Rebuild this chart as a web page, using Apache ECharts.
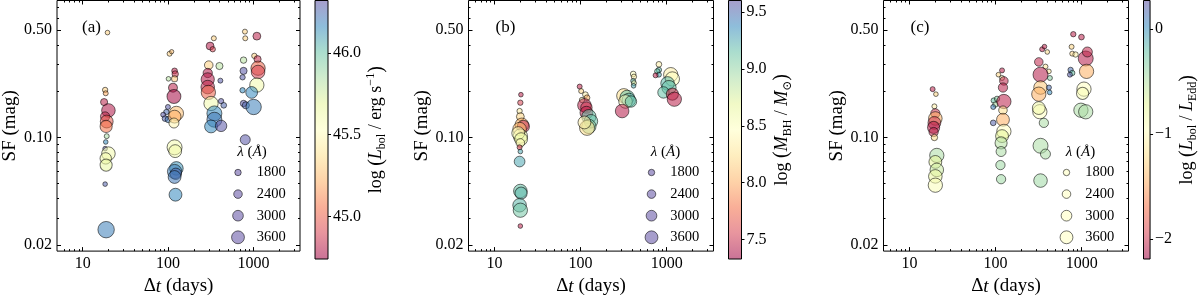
<!DOCTYPE html>
<html><head><meta charset="utf-8">
<script src="https://cdn.jsdelivr.net/npm/echarts@6/dist/echarts.min.js"></script>
<style>html,body{margin:0;padding:0;background:#fff}#c{width:1200px;height:301px}</style>
</head><body><div id="c"></div>
<script>
// ---------------- data ----------------
// Panel (a): colour = log(Lbol / erg s^-1)
const aDt  = [19.5,18.3,18.6,17.8,20.0,18.3,19.1,18.8,19.1,18.6,18.3,20.0,18.6,18.8,18.3,18.8,
              104,110,119,121,101,119,114,117,99.5,95.3,87.6,92,100.6,125,119,117,119,121,125,119,123,119,122,
              343,310,333,299,399,291,291,409,291,296,318,417,448,348,348,318,417,
              793,800,1094,1022,1115,764,764,744,1130,1130,1094,744,951,764,813,1003,800];
const aSF  = [0.482,0.204,0.194,0.170,0.150,0.137,0.127,0.118,0.102,0.0935,0.0846,0.0785,0.0731,0.0661,0.0497,0.0251,
              0.351,0.362,0.2715,0.259,0.241,0.241,0.211,0.185,0.158,0.1465,0.1407,0.1328,0.131,0.1435,0.1367,0.1242,0.0863,0.0815,0.0629,0.0600,0.058,0.0553,0.0424,
              0.4425,0.394,0.3755,0.296,0.292,0.263,0.239,0.2345,0.213,0.1965,0.1665,0.1725,0.162,0.1435,0.1305,0.118,0.119,
              0.489,0.4425,0.457,0.340,0.3235,0.319,0.2715,0.2465,0.2825,0.267,0.2195,0.203,0.1965,0.1665,0.162,0.158,0.0967];
const aLam = [1300,1500,1400,2000,3800,2600,3600,3400,1400,1300,1300,3800,3200,3400,1300,4600,
              1400,1200,1600,1800,1300,1700,2500,3900,1400,1500,1400,1600,1800,4000,3600,2800,4200,3600,3800,4000,3200,3600,3600,
              1400,2200,1500,2400,2000,2600,3700,1400,3800,4000,4000,1500,1600,4200,4200,3600,3200,
              1400,1400,2200,1500,2000,1800,2000,1500,4000,3800,4000,1500,3300,1800,2000,4300,2800];
const aLbol = [45.32,45.32,45.21,44.82,44.79,44.83,44.98,45.06,45.85,46.16,46.30,45.61,45.61,45.66,46.27,46.19,
               45.32,45.26,44.82,44.87,45.81,45.29,44.82,44.76,46.29,46.24,46.30,46.27,46.21,45.26,45.21,45.48,45.61,45.61,46.13,46.19,46.26,46.21,46.16,
               45.32,44.80,44.90,45.32,45.81,44.80,44.80,46.29,44.83,45.01,45.61,46.30,46.26,46.16,46.21,46.16,46.30,
               45.32,45.32,44.82,45.32,44.85,45.81,46.30,46.29,45.02,44.90,45.61,46.16,46.16,46.30,46.26,46.19,46.30];

// Panel (b): colour = log(MBH / Msun)
const bDt  = [20.3,20.0,19.6,20.0,20.8,21.7,19.6,20.0,18.9,20.4,20.0,19.6,20.0,19.6,20.0,20.4,19.6,20.0,20.0,
              97.7,101.7,114,119,104,111,117,117,125,132,125,119,111,
              409,417,409,417,413,318,348,364,333,385,304,
              813,813,778,813,744,1115,1165,1025,1064,919,1165,1228];
const bSF  = [0.190,0.1685,0.1487,0.1367,0.1209,0.118,0.1134,0.1021,0.1068,0.0975,0.0922,0.0863,0.081,0.0697,0.0448,0.0434,0.0362,0.0336,0.0265,
              0.2145,0.2005,0.190,0.1815,0.1755,0.162,0.1565,0.145,0.1367,0.1275,0.118,0.1155,0.1253,
              0.259,0.2485,0.2335,0.226,0.217,0.187,0.1825,0.1755,0.1715,0.1715,0.1487,
              0.2995,0.2755,0.2695,0.2565,0.254,0.2565,0.2405,0.225,0.2115,0.1965,0.1915,0.1775];
const bLam = [1300,1500,1500,2200,3800,3400,3800,4000,3600,3600,2400,1400,1300,3000,3800,3400,3800,4000,1300,
              1400,1400,1600,1600,1500,3800,3200,3600,4000,3800,4000,4200,3600,
              1600,1500,1400,1400,1300,4000,4000,3800,3800,3200,3800,
              1600,1500,1500,1400,1400,4000,4000,3800,4000,3200,3400,4000];
const bMbh = [7.44,7.56,8.35,8.19,8.01,7.47,8.08,8.58,8.47,8.65,8.42,7.56,9.26,9.26,9.15,9.19,9.19,9.10,7.44,
              7.44,8.19,8.35,8.01,8.35,7.44,7.51,7.44,9.15,9.15,9.03,8.24,8.35,
              8.47,8.35,9.19,8.58,9.26,8.24,9.15,9.19,8.47,9.15,7.42,
              8.35,9.19,9.15,9.26,7.44,8.35,8.47,9.19,9.15,9.15,7.51,7.44];

// Panel (c): colour = log(Lbol / LEdd)
const cDt  = [18.6,20.3,19.5,20.0,20.0,19.5,19.1,19.1,19.5,20.8,20.0,20.8,20.0,20.0,
              119,108,119,125,122,95.3,99.6,94,104,125,122,122,94,125,119,116,116,114,116,
              348,370,399,318,380,417,333,333,428,417,425,318,327,318,364,333,380,333,
              800,995,764,778,850,1115,1165,744,778,731,1140,1064,1025,981,1115];
const cSF  = [0.2065,0.1915,0.1595,0.1435,0.133,0.1245,0.1163,0.1085,0.100,0.0764,0.0693,0.0615,0.0558,0.0489,
              0.2735,0.2565,0.244,0.2335,0.2115,0.174,0.164,0.158,0.1785,0.1715,0.1505,0.1305,0.1245,0.1095,0.1021,0.0922,0.081,0.0661,0.0535,
              0.3755,0.3905,0.3605,0.3105,0.2895,0.2695,0.2565,0.2115,0.244,0.2115,0.1965,0.1915,0.1472,0.1555,0.1245,0.0883,0.078,0.0524,
              0.4705,0.4505,0.3895,0.3515,0.347,0.327,0.3605,0.2755,0.263,0.2565,0.2695,0.2065,0.1936,0.1505,0.147];
const cLam = [1400,1300,1400,2600,3800,3600,3400,2600,1800,4000,3600,3800,3800,4000,
              1400,1300,1400,2400,2600,1500,1500,1400,1500,4000,2400,3600,1600,4000,3600,3400,2800,2600,2600,
              1400,1300,1300,2400,1400,1300,4200,3800,1400,1400,1300,4000,4000,3600,2600,4200,2800,3800,
              1500,1600,1400,1400,1500,4200,2800,1500,1500,1400,4000,4000,3400,4000,4000];
const cEdd = [-2.07,-1.26,-1.08,-1.99,-1.45,-1.99,-2.09,-2.04,-1.21,-0.47,-0.71,-0.59,-0.76,-0.91,
              -2.07,-1.26,-1.08,-2.04,-2.07,-0.22,-0.47,0.07,-0.35,-2.07,-1.21,-1.45,0.20,-0.96,-0.71,-0.52,-0.47,-0.42,-0.42,
              -2.07,-2.07,-1.21,-2.04,-1.16,-1.16,-2.09,-1.33,-0.35,0.15,0.02,-1.45,-0.96,-0.84,-0.47,-0.47,-0.47,-0.42,
              -2.07,-2.07,-1.26,-1.26,-1.08,-2.09,-2.04,0.15,-0.22,0.22,-1.45,-0.96,-0.91,-0.47,-0.47];

// axis ticks
const xMajor = [10, 100, 1000];
const xMinor = [6,7,8,9,20,30,40,50,60,70,80,90,200,300,400,500,600,700,800,900,2000,3000];
const yMajor = [0.02, 0.1, 0.5];
const yMinor = [0.03,0.04,0.05,0.06,0.07,0.08,0.09,0.2,0.3,0.4,0.6,0.7];
const cbTicksA = [45.0, 45.5, 46.0];
const cbTicksB = [7.5, 8.0, 8.5, 9.0, 9.5];
const cbTicksC = [-2, -1, 0];
const legendLam = [1800, 2400, 3000, 3600];

// ---------------- styling / layout ----------------
const F = '"Liberation Serif","DejaVu Serif",serif';
const T = 0.5, H = 258.5, W = 245;
const XMIN = 5, XMAX = 3500, YMIN = 0.0182, YMAX = 0.78;
const SPECTRAL = ['#9e0142','#d53e4f','#f46d43','#fdae61','#fee08b','#ffffbf','#e6f598','#abdda4','#66c2a5','#3288bd','#5e4fa2'];
function hex2rgb(h){return [parseInt(h.slice(1,3),16),parseInt(h.slice(3,5),16),parseInt(h.slice(5,7),16)];}
function spec(f){
  f = Math.max(0, Math.min(1, f)); const t = f*10; const i = Math.min(9, Math.floor(t)); const r = t - i;
  const a = hex2rgb(SPECTRAL[i]), b = hex2rgb(SPECTRAL[i+1]);
  return 'rgb(' + a.map((v,k)=>Math.round(v+(b[k]-v)*r)).join(',') + ')';
}
const grad = SPECTRAL.map((c,i)=>({offset:i/10, color:c}));
const sz = l => l/280;
const ALPHA = 0.55;

const nameRich = (fs) => ({
  n:{fontFamily:F,fontSize:fs,lineHeight:fs,color:'#000',verticalAlign:'middle'},
  i:{fontFamily:F,fontSize:fs,lineHeight:fs,color:'#000',fontStyle:'italic',verticalAlign:'middle'},
  p:{fontFamily:F,fontSize:fs+2,lineHeight:fs+2,color:'#000',verticalAlign:'middle'},
  s:{fontFamily:F,fontSize:Math.round(fs*0.68),lineHeight:Math.round(fs*0.68),color:'#000',padding:[11,0,0,0],verticalAlign:'middle'},
  u:{fontFamily:F,fontSize:Math.round(fs*0.68),lineHeight:Math.round(fs*0.68),color:'#000',padding:[0,0,11,0],verticalAlign:'middle'}
});

const panels = [
  {left:55, dt:aDt, sf:aSF, lam:aLam, cv:aLbol, cmin:44.74, cmax:46.32, cticks:cbTicksA, cfmt:v=>v.toFixed(1), tag:'(a)',
   cbName:'{n|log }{p|(}{i|L}{s|bol}{n| / erg s}{u|−1}{p|)}', cbGap:35, legF:1.0},
  {left:468.5, dt:bDt, sf:bSF, lam:bLam, cv:bMbh, cmin:7.33, cmax:9.60, cticks:cbTicksB, cfmt:v=>v.toFixed(1), tag:'(b)',
   cbName:'{n|log }{p|(}{i|M}{s|BH}{n| / }{i|M}{s|⊙}{p|)}', cbGap:26, legF:1.0},
  {left:883.5, dt:cDt, sf:cSF, lam:cLam, cv:cEdd, cmin:-2.19, cmax:0.27, cticks:cbTicksC, cfmt:v=>(v<0?'−'+Math.abs(v):String(v)), tag:'(c)',
   cbName:'{n|log }{p|(}{i|L}{s|bol}{n| / }{i|L}{s|Edd}{p|)}', cbGap:20, legF:0.5}
];

const option = {animation:false, backgroundColor:'#fff', grid:[], xAxis:[], yAxis:[], series:[], graphic:[]};

function logAxis(g, pos, major, min, max, majV, minV, lab) {
  const ax = {type:'log', logBase:10, gridIndex:g, position:pos, min:min, max:max,
    axisLine:{show:false}, splitLine:{show:false}, minorTick:{show:false}, minorSplitLine:{show:false},
    axisTick:{show:true, inside:true, length: major?4:2, customValues: major?majV:minV, lineStyle:{color:'#000', width:1}},
    axisLabel:{show:false}};
  if (lab) ax.axisLabel = {show:true, customValues:majV, formatter:lab, margin:5, fontSize:16, fontFamily:F, color:'#000'};
  return ax;
}

panels.forEach((P, k) => {
  // main plot
  const g = option.grid.length;
  option.grid.push({left:P.left, top:T, width:W, height:H, show:true, borderColor:'#000', borderWidth:1, backgroundColor:'rgba(0,0,0,0)'});
  const xi = option.xAxis.length;
  const xb = logAxis(g,'bottom',true,XMIN,XMAX,xMajor,xMinor,v=>String(Math.round(v)));
  xb.name = '{n|Δ}{i|t}{n| (days)}'; xb.nameLocation='middle'; xb.nameGap=22;
  xb.nameTextStyle = {rich:nameRich(19)};
  option.xAxis.push(xb, logAxis(g,'bottom',false,XMIN,XMAX,xMajor,xMinor),
                    logAxis(g,'top',true,XMIN,XMAX,xMajor,xMinor), logAxis(g,'top',false,XMIN,XMAX,xMajor,xMinor));
  const yi = option.yAxis.length;
  const yl = logAxis(g,'left',true,YMIN,YMAX,yMajor,yMinor,v=>v.toFixed(2));
  yl.name = 'SF (mag)'; yl.nameLocation='middle'; yl.nameRotate=90; yl.nameGap=37;
  yl.nameTextStyle = {fontFamily:F, fontSize:19, color:'#000'};
  option.yAxis.push(yl, logAxis(g,'left',false,YMIN,YMAX,yMajor,yMinor),
                    logAxis(g,'right',true,YMIN,YMAX,yMajor,yMinor), logAxis(g,'right',false,YMIN,YMAX,yMajor,yMinor));
  option.series.push({type:'scatter', xAxisIndex:xi, yAxisIndex:yi, z:3,
    data:P.dt.map((d,i)=>[d, P.sf[i], P.lam[i], P.cv[i]]),
    symbolSize:v=>sz(v[2]),
    itemStyle:{color:p=>spec((p.value[3]-P.cmin)/(P.cmax-P.cmin)), opacity:ALPHA, borderColor:'#000', borderWidth:1}});

  // colorbar
  const gc = option.grid.length;
  option.grid.push({left:P.left+260, top:T, width:13, height:H});
  const cx = option.xAxis.length;
  option.xAxis.push({type:'category', gridIndex:gc, data:['cb'], show:false});
  const cy = option.yAxis.length;
  option.yAxis.push({type:'value', gridIndex:gc, position:'right', min:P.cmin, max:P.cmax,
    axisLine:{show:false}, splitLine:{show:false},
    axisTick:{show:true, inside:false, length:3, customValues:P.cticks, lineStyle:{color:'#000'}},
    axisLabel:{show:true, customValues:P.cticks, formatter:P.cfmt, margin:5, fontSize:16, fontFamily:F, color:'#000'},
    name:P.cbName, nameLocation:'middle', nameRotate:90, nameGap:P.cbGap, nameTextStyle:{rich:nameRich(18)}});
  option.series.push({type:'custom', xAxisIndex:cx, yAxisIndex:cy, silent:true, clip:false,
    data:[[0, P.cmin, P.cmax]],
    renderItem:(params, api) => {
      const lo = api.coord([0, api.value(1)]), hi = api.coord([0, api.value(2)]);
      const w = api.size([1, 0])[0];
      const shape = {x:lo[0]-w/2, y:hi[1], width:w, height:lo[1]-hi[1]};
      return {type:'group', children:[
        {type:'rect', shape:shape, style:{fill:new echarts.graphic.LinearGradient(0,1,0,0,grad), opacity:ALPHA}},
        {type:'rect', shape:shape, style:{fill:'none', stroke:'#000', lineWidth:1}}
      ]};
    }});

  // size legend
  const gl = option.grid.length;
  option.grid.push({left:P.left+173, top:161.7, width:20, height:86.4});
  const lx = option.xAxis.length;
  option.xAxis.push({type:'value', gridIndex:gl, min:0, max:1, show:false});
  const ly = option.yAxis.length;
  option.yAxis.push({type:'category', gridIndex:gl, data:legendLam.map(String), inverse:true, position:'right',
    axisLine:{show:false}, axisTick:{show:false}, splitLine:{show:false},
    axisLabel:{margin:8.7, fontSize:14.5, fontFamily:F, color:'#000'}});
  option.series.push({type:'scatter', xAxisIndex:lx, yAxisIndex:ly, silent:true,
    data:legendLam.map((l,i)=>[0.5, i, l]), symbolSize:v=>sz(v[2]),
    itemStyle:{color:spec(P.legF), opacity:ALPHA, borderColor:'#000', borderWidth:1}});

  option.graphic.push({type:'text', x:P.left+197, y:152, style:{text:'{i|λ}{n| (}{i|Å}{n|)}', align:'center', verticalAlign:'middle',
    rich:{i:{fontFamily:F,fontSize:15,fontStyle:'italic',fill:'#000'}, n:{fontFamily:F,fontSize:15,fill:'#000'}}}});
  option.graphic.push({type:'text', x:P.left+27, y:28, style:{text:P.tag, align:'left', verticalAlign:'middle',
    font:'17px ' + F, fill:'#000'}});
});

const chart = echarts.init(document.getElementById('c'), null, {renderer:'canvas'});
chart.setOption(option);
</script>
</body></html>
